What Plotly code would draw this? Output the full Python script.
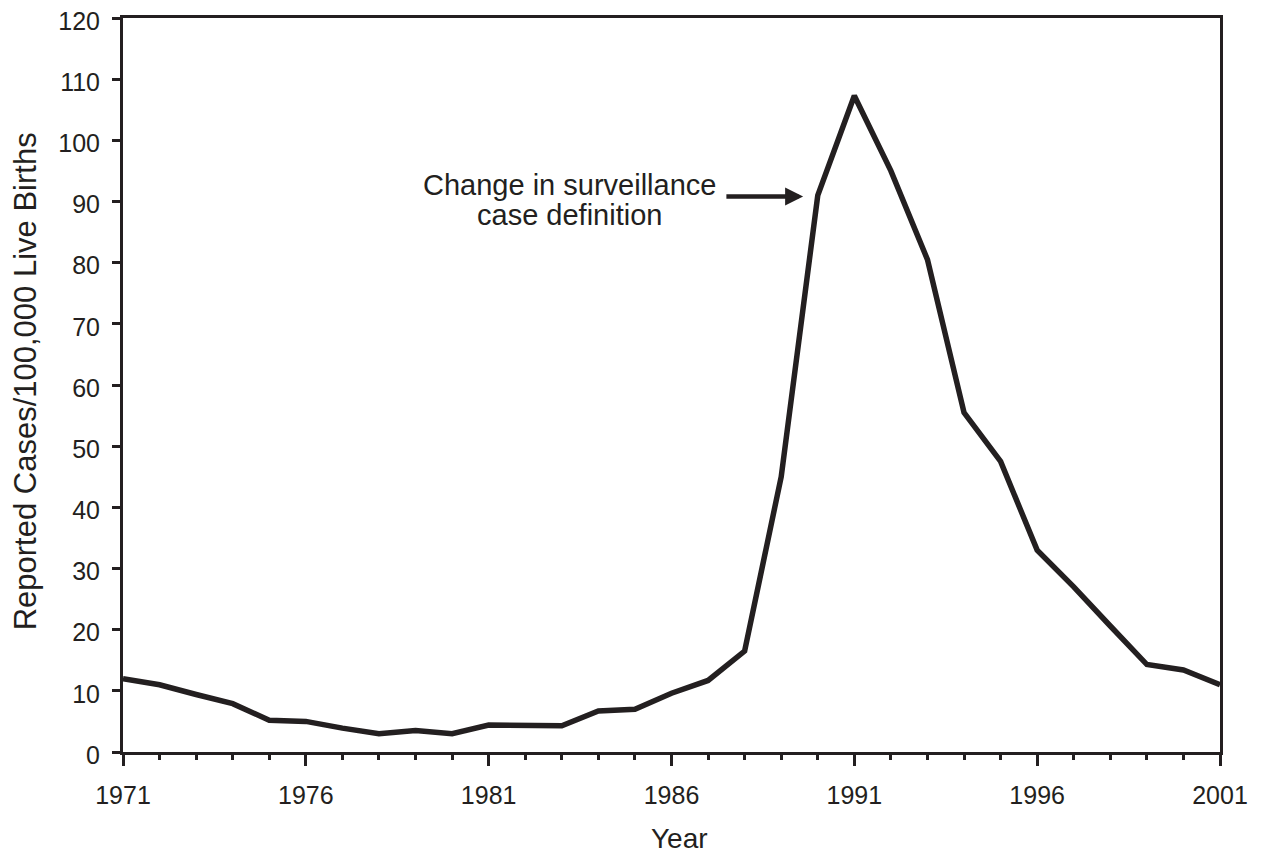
import plotly.graph_objects as go

# Reported cases per 100,000 live births, by year
years = list(range(1971, 2002))
rates = [12.0, 11.0, 9.4, 7.9, 5.2, 5.0, 3.9, 3.0, 3.5, 3.0,
         4.4, 4.3, 4.3, 6.7, 7.0, 9.6, 11.7, 16.5, 45.0, 91.0,
         107.3, 95.0, 80.5, 55.5, 47.5, 33.0, 27.0, 20.6, 14.3, 13.4,
         11.0]

x_ticks = [1971, 1976, 1981, 1986, 1991, 1996, 2001]
y_ticks = list(range(0, 121, 10))

INK = "#231f20"
FONT = "Liberation Sans, Arial, sans-serif"

fig = go.Figure()
fig.add_trace(go.Scatter(
    x=years, y=rates,
    mode="lines",
    line={"color": INK, "width": 5.5},
    showlegend=False,
    cliponaxis=False,
))

# annotation text (two lines placed separately for tight line spacing)
for txt, yv in [("Change in surveillance", 92.7), ("case definition", 87.8)]:
    fig.add_annotation(
        x=1983.2, y=yv, xref="x", yref="y",
        text=txt, showarrow=False,
        font={"family": FONT, "size": 29, "color": INK},
    )
# arrow pointing at the 1990 jump
fig.add_annotation(
    x=1989.6, y=90.8, ax=1987.46, ay=90.8,
    xref="x", yref="y", axref="x", ayref="y",
    text="", showarrow=True,
    arrowhead=2, arrowsize=0.8, arrowwidth=4.5, arrowcolor=INK,
)

# axis titles
fig.add_annotation(
    x=0.507, y=-0.1185, xref="paper", yref="paper",
    xanchor="center", yanchor="middle",
    text="Year", showarrow=False,
    font={"family": FONT, "size": 28, "color": INK},
)
fig.add_annotation(
    x=-0.0893, y=0.505, xref="paper", yref="paper",
    xanchor="center", yanchor="middle",
    text="Reported Cases/100,000 Live Births", showarrow=False,
    textangle=-90,
    font={"family": FONT, "size": 31, "color": INK},
)

fig.update_xaxes(
    range=[1971, 2001],
    tickvals=x_ticks,
    ticks="outside", ticklen=11, tickwidth=3, tickcolor=INK,
    ticklabelstandoff=8,
    minor={"dtick": 1, "tick0": 1971, "ticks": "outside", "ticklen": 5,
           "tickwidth": 2.5, "tickcolor": INK, "showgrid": False},
    showline=True, linewidth=3, linecolor=INK, mirror=True,
    showgrid=False, zeroline=False, automargin=False,
    tickfont={"family": FONT, "size": 25, "color": INK},
)
fig.update_yaxes(
    range=[0, 120],
    tickvals=y_ticks,
    ticks="outside", ticklen=8, tickwidth=3, tickcolor=INK,
    ticklabelstandoff=7, ticklabelshift=3, ticklabeloverflow="allow",
    showline=True, linewidth=3, linecolor=INK, mirror=True,
    showgrid=False, zeroline=False, automargin=False,
    tickfont={"family": FONT, "size": 25, "color": INK},
)

fig.update_layout(
    width=1246, height=847,
    margin={"l": 115, "r": 34, "t": 10, "b": 103},
    plot_bgcolor="white", paper_bgcolor="white",
)

fig.write_html("out.html")
